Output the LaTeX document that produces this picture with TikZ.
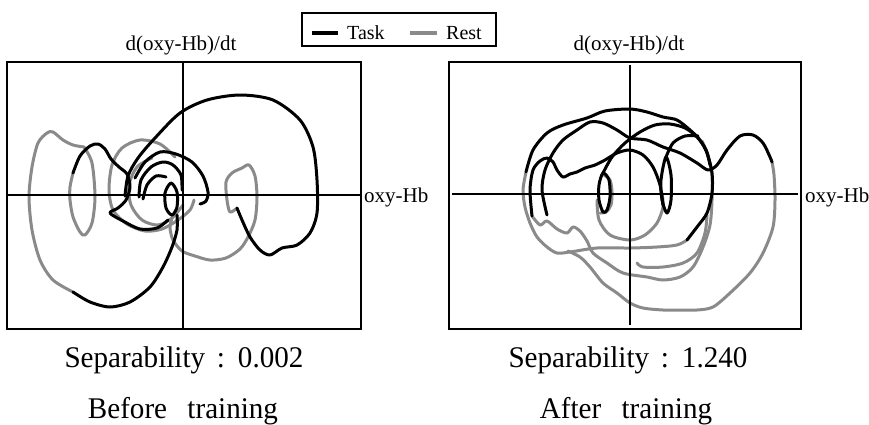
\documentclass[tikz,border=0pt]{standalone}
\usepackage{fontspec}
\setmainfont{Liberation Serif}
\begin{document}
\begin{tikzpicture}[x=1pt,y=-1pt,
  task/.style={line width=3pt,black,line join=round,line cap=round},
  rest/.style={line width=3pt,black!46,line join=round,line cap=round},
  frame/.style={line width=1.8pt},
  axis/.style={line width=2.4pt},
  lbl/.style={inner sep=0pt,font=\fontsize{21}{24}\selectfont},
  captext/.style={inner sep=0pt,anchor=base,font=\fontsize{30}{34}\selectfont,xscale=0.97}]
\useasboundingbox (0,0) rectangle (869,424);
\draw[frame] (302,13) rectangle (496,46);
\draw[line width=4pt,black] (312,33) -- (338,33);
\draw[line width=4pt,black!46] (410,33) -- (437,33);
\node[lbl,anchor=base west,font=\fontsize{20}{24}\selectfont] (task) at (347,39) {Task};
\node[lbl,anchor=base west,font=\fontsize{20}{24}\selectfont] (rest) at (446,39) {Rest};
\draw[frame] (7,62) rectangle (361,329);
\draw[frame] (449,62) rectangle (801,329);
\node[lbl,anchor=base] (ylabA) at (181,50) {d(oxy-Hb)/dt};
\node[lbl,anchor=base] (ylabB) at (629,50) {d(oxy-Hb)/dt};
\node[lbl,anchor=base west] (xlabA) at (364,202) {oxy-Hb};
\node[lbl,anchor=base west] (xlabB) at (805,202) {oxy-Hb};
\node[captext] (sepA) at (184,367) {Separability\hspace{0.4em}:\hspace{0.45em}0.002};
\node[captext] (sepB) at (628,367) {Separability\hspace{0.4em}:\hspace{0.45em}1.240};
\node[captext] (befA) at (183,418) {Before\hspace{0.7em}training};
\node[captext] (aftB) at (626,418) {After\hspace{0.7em}training};
\draw[rest] plot[smooth] coordinates {(73,292) (53,280) (40,260) (32,230) (29,197) (32,167) (38,143) (47,133) (53,132) (63,140) (73,145) (84,147)};
\draw[rest] plot[smooth] coordinates {(84,147) (92,163) (95,197) (92,223) (85,235) (80,232) (73,217) (70,200) (70,187) (73,173)};
\draw[rest] plot[smooth] coordinates {(175,157) (160,144) (140,140) (122,148) (112,165) (109,190) (113,210) (127,224) (145,231) (162,229) (178,220) (190,210) (194,200)};
\draw[rest] plot[smooth] coordinates {(152,158) (137,167) (129,185) (131,205) (142,220) (158,225) (172,218) (183,205)};
\draw[rest] plot[smooth] coordinates {(237,208) (230,212) (227,200) (226,182) (232,173) (242,168) (249,165) (255,176) (257,197) (255,220) (248,237) (240,249) (226,258) (210,260) (195,256) (182,251) (173,240) (170,227) (173,215)};
\draw[task] plot[smooth] coordinates {(73,292) (90,302) (110,307) (130,302) (150,287) (163,267) (172,247) (177,230) (177,215)};
\draw[task] plot[smooth cycle] coordinates {(171,183) (177,192) (177,207) (172,215) (166,208) (165,193)};
\draw[task] plot[smooth] coordinates {(73,173) (80,156) (90,146) (98,144) (105,149) (111,159) (119,167) (127,174) (130,187) (126,200) (118,208) (110,213) (123,221) (140,229) (157,228) (168,220)};
\draw[task] plot[smooth] coordinates {(125,196) (128,176) (138,158) (155,138) (180,113) (207,100) (240,95) (273,100) (300,120) (313,147) (317,180) (317,213) (310,233) (297,245) (282,248) (270,255) (260,250) (250,237) (242,220) (237,208)};
\draw[task] plot[smooth] coordinates {(135,178) (145,162) (160,152) (176,154) (192,162) (203,176) (208,192) (206,201) (200,204)};
\draw[task] plot[smooth] coordinates {(139,197) (141,180) (151,167) (163,162) (173,165) (181,175) (182,190)};
\draw[task] plot[smooth] coordinates {(143,199) (147,185) (156,176) (166,177)};
\draw[axis] (183,62) -- (183,329);
\draw[axis] (7,195) -- (361,195);
\draw[rest] plot[smooth] coordinates {(687,240) (677,245) (657,247) (630,248) (597,248) (570,252) (557,253) (547,247) (537,237) (530,223) (525,207) (523,190) (526,172)};
\draw[rest] plot[smooth] coordinates {(532,216) (540,225) (547,221) (557,229) (567,233) (573,227) (580,231) (587,241) (593,253) (607,263) (623,273) (647,277) (663,280) (680,277) (693,267) (703,247) (710,225) (712,200) (712,175) (708,155) (702,141)};
\draw[rest] plot[smooth] coordinates {(637,263) (643,267) (663,267) (683,263) (697,253) (705,233) (707,215)};
\draw[rest] plot[smooth] coordinates {(604,175) (610,180) (612,192) (611,205) (606,212) (600,213)};
\draw[rest] plot[smooth] coordinates {(597,200) (599,220) (610,235) (630,240) (645,235) (657,223) (663,207) (662,193)};
\draw[rest] plot[smooth] coordinates {(772,162) (774,175) (775,200) (773,227) (763,253) (750,273) (730,293) (713,307) (697,310) (680,310) (663,310) (643,308) (630,303) (617,293) (603,283) (590,267) (580,257) (568,251)};
\draw[task] plot[smooth] coordinates {(526,172) (533,150) (547,133) (563,125) (587,118) (605,111) (630,109) (647,112) (663,117) (677,120) (690,130) (700,140) (707,153) (712,173) (712,193) (707,213) (697,227) (687,240)};
\draw[task] plot[smooth] coordinates {(532,216) (530,190) (533,170) (540,161) (547,158) (553,162) (557,170) (563,177) (570,174) (577,172) (585,168) (595,165) (605,160) (617,153) (630,150) (643,155) (653,167) (660,185) (663,205)};
\draw[task] plot[smooth] coordinates {(547,215) (542,190) (545,170) (553,153) (563,140) (577,130) (590,122) (603,123) (617,130) (630,138) (647,140) (663,147) (680,153) (697,163) (708,170) (717,165) (727,150) (740,136) (753,135) (763,143) (770,157) (772,162)};
\draw[task] plot[smooth cycle] coordinates {(603,173) (609,180) (610,197) (607,210) (603,212) (599,200) (599,185)};
\draw[task] plot[smooth cycle] coordinates {(666,157) (671,175) (671,200) (667,213) (662,200) (661,180)};
\draw[task] plot[smooth] coordinates {(603,173) (612,157) (625,143) (640,132) (655,125) (670,124) (685,128) (697,137) (706,150) (710,165)};
\draw[task] plot[smooth] coordinates {(666,157) (673,143) (685,136) (698,136)};
\draw[axis] (630,65) -- (630,325);
\draw[axis] (452,194) -- (798,194);
\end{tikzpicture}
\end{document}
